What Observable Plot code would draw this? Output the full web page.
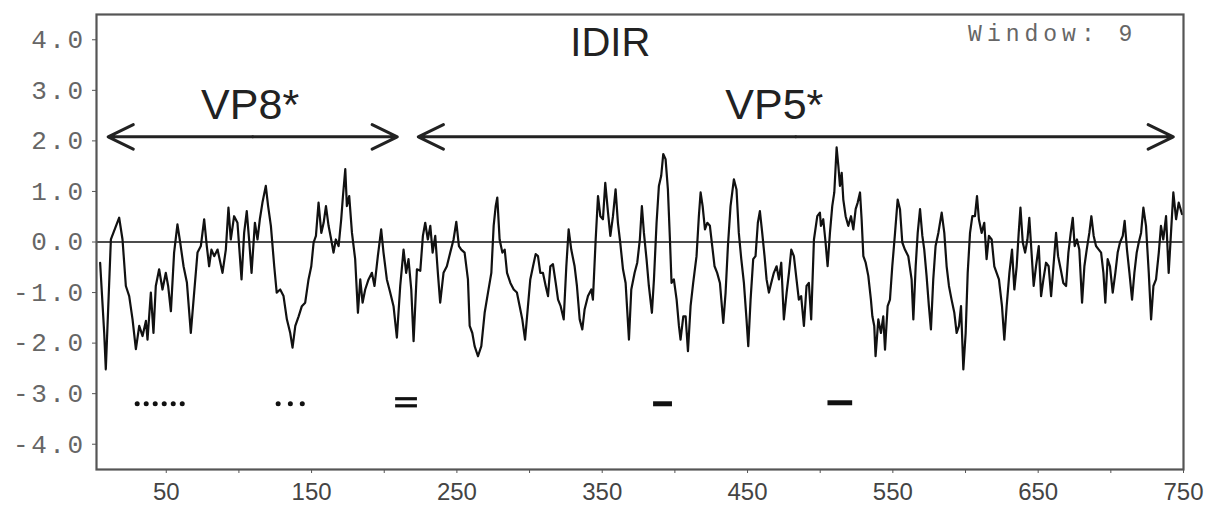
<!DOCTYPE html>
<html>
<head>
<meta charset="utf-8">
<script src="https://cdn.jsdelivr.net/npm/d3@7"></script>
<script src="https://cdn.jsdelivr.net/npm/@observablehq/plot@0.6"></script>
<style>
  html, body { margin: 0; padding: 0; background: #fff; }
  #chart { width: 1218px; height: 505px; }
</style>
</head>
<body>
<div id="chart"></div>
<script>
// Residue positions and IDIR profile values (Window: 9)
const residue = [
  4.5,7.3,8.4,11.9,17.6,19.9,22.2,24.5,26.8,29.1,31.4,33.7,36.0,37.1,39.4,41.2,42.8,45.1,47.4,49.7,
  51.3,53.2,55.4,57.7,59.6,61.9,64.2,66.9,69.2,71.5,73.8,76.1,77.9,79.5,81.1,83.0,85.3,88.7,91.0,92.8,
  94.4,96.7,99.0,101.8,103.6,105.4,107.0,108.7,111.0,112.8,114.4,116.2,118.5,120.1,122.0,124.3,
  126.0,128.4,130.7,133.0,135.3,136.9,138.8,141.1,143.3,145.6,147.9,149.8,151.4,153.0,154.8,156.7,158.3,
  159.9,161.7,163.5,165.1,166.7,168.6,170.4,171.6,173.2,174.3,175.9,177.8,180.0,181.9,183.5,185.1,186.9,
  189.2,191.5,193.3,195.6,197.9,199.5,201.8,204.1,206.4,208.7,211.0,213.3,215.1,216.7,218.6,220.2,222.5,
  224.8,226.6,228.2,230.0,231.7,233.3,235.1,236.9,238.5,240.8,243.1,245.4,247.7,249.6,
  251.4,253.0,255.3,257.6,258.8,260.6,262.2,264.5,266.8,269.1,271.4,273.7,275.3,276.7,277.8,279.4,281.3,
  282.9,284.5,286.8,289.1,291.3,293.2,295.0,296.9,298.9,300.5,302.4,304.2,305.8,307.4,309.2,311.1,312.7,
  314.3,316.1,318.0,319.6,321.4,323.5,325.3,326.9,328.7,331.0,332.6,334.5,336.3,337.9,340.2,342.5,343.6,
  345.5,347.1,348.7,350.5,352.1,354.0,355.6,357.4,359.2,360.8,362.4,364.3,366.1,368.4,370.0,372.3,374.1,
  375.9,377.3,378.7,380.5,382.1,384.2,385.6,387.4,389.0,390.6,392.0,393.6,395.2,396.6,397.7,399.3,401.2,
  402.8,403.9,405.8,407.4,409.0,410.8,412.6,414.9,416.5,417.7,419.1,420.7,422.3,424.1,425.7,427.3,429.1,
  431.0,433.3,434.9,436.5,438.3,440.6,442.4,444.0,445.7,447.5,449.3,450.5,452.1,453.9,455.5,457.1,458.5,
  460.1,461.7,463.1,464.7,466.3,468.1,470.0,471.6,473.2,475.0,476.9,478.5,480.1,481.9,483.7,485.3,486.9,
  488.8,490.6,492.2,493.8,495.7,498.0,499.8,
  500.5,502.1,503.7,505.1,506.7,508.3,509.7,511.3,512.5,513.6,514.8,515.9,517.5,519.3,521.2,522.8,524.4,
  525.8,527.4,528.5,529.7,531.3,533.1,534.9,535.9,537.2,538.1,540.0,541.8,543.4,544.6,546.4,548.0,549.6,
  551.5,553.3,554.9,556.5,558.3,560.6,562.9,564.1,565.7,567.1,568.7,570.3,571.6,573.2,574.8,576.2,577.8,
  579.4,581.3,583.6,585.4,587.0,588.6,590.4,592.3,593.9,595.5,596.9,598.5,600.1,601.5,603.1,604.7,606.5,
  607.9,609.2,611.1,612.9,614.5,616.1,618.0,619.8,621.4,623.0,
  625.1,626.7,628.3,630.2,632.0,633.6,635.2,636.6,637.8,639.4,641.0,642.6,643.9,645.3,646.9,648.5,650.4,
  652.0,653.6,655.4,657.2,658.9,660.5,662.3,663.7,665.5,667.3,669.2,670.8,672.4,673.8,675.1,676.7,678.3,
  680.2,681.8,683.4,685.2,686.6,688.2,689.8,691.7,693.3,694.9,696.2,697.8,699.4,701.3,703.1,704.7,706.3,
  708.2,709.5,711.1,712.8,714.6,716.2,717.8,719.2,720.8,722.4,724.2,726.1,727.7,729.3,731.1,733.0,734.5,
  736.1,738.0,739.8,741.4,743.0,744.9,746.7,749.0
];
const idir = [
  -0.41,-1.80,-2.52,0.05,0.48,0.05,-0.87,-1.07,-1.53,-2.12,-1.66,-1.86,-1.56,-1.93,-1.00,-1.80,-0.87,-0.54,-0.94,-0.61,
  -0.87,-1.37,-0.21,0.35,-0.01,-0.48,-0.80,-1.80,-1.00,-0.21,-0.08,0.45,-0.08,-0.48,-0.15,-0.28,-0.15,-0.61,-0.15,0.68,
  0.05,0.51,0.38,-0.74,0.18,0.61,0.05,-0.61,0.38,0.05,0.45,0.78,1.11,0.71,0.32,-0.48,
  -1.00,-0.94,-1.07,-1.53,-1.80,-2.09,-1.66,-1.47,-1.27,-1.20,-0.74,-0.48,-0.01,0.12,0.78,0.18,0.38,
  0.71,0.32,0.05,-0.21,0.05,-0.08,0.45,0.91,1.44,0.71,0.91,0.18,-0.34,-1.40,-0.74,-1.20,-0.94,
  -0.74,-0.61,-0.87,-0.28,0.25,-0.21,-0.74,-1.00,-1.27,-1.89,-0.87,-0.15,-0.61,-0.34,-0.94,-1.96,-0.54,
  -0.57,0.12,0.38,0.05,0.32,-0.21,0.12,-0.61,-1.20,-0.61,-0.48,-0.21,0.05,0.40,
  -0.08,-0.15,-0.21,-0.74,-1.66,-1.80,-2.06,-2.26,-2.06,-1.40,-1.00,-0.61,0.32,0.71,0.88,0.05,-0.21,
  -0.15,-0.61,-0.81,-0.94,-1.00,-1.27,-1.53,-1.93,-1.27,-0.74,-0.48,-0.24,-0.28,-0.61,-0.61,-0.87,-1.07,
  -0.48,-0.44,-0.81,-1.14,-1.27,-1.53,-0.48,0.25,-0.15,-0.48,-0.87,-1.53,-1.73,-1.33,-1.07,-0.94,-1.14,
  0.05,0.91,0.51,0.45,1.17,0.58,0.12,0.51,1.04,0.38,-0.01,-0.54,-0.81,-1.93,-0.94,-0.61,-0.41,
  0.05,0.71,0.18,-0.34,-0.87,-1.40,-0.74,0.38,1.11,1.31,1.74,1.64,1.04,0.05,-0.81,-0.74,-1.14,
  -1.66,-1.93,-1.47,-1.47,-2.16,-1.27,-0.81,-0.28,0.51,0.98,0.71,0.25,0.38,0.32,-0.08,-0.48,-0.61,
  -0.81,-1.60,-1.00,-0.08,0.71,1.24,1.04,0.18,-0.34,-0.81,-1.53,-2.06,-1.14,-0.34,-0.28,0.38,0.61,
  0.18,-0.28,-0.74,-1.00,-0.81,-0.61,-0.48,-0.74,-0.41,-1.53,-1.00,-0.61,-0.15,-0.28,-0.74,-1.14,-1.07,
  -1.66,-0.87,-0.81,-1.53,0.05,0.51,0.58,
  0.32,0.45,-0.01,-0.48,0.18,0.71,0.98,1.87,1.50,1.11,1.37,0.84,0.51,0.32,0.51,0.25,0.65,
  0.78,0.98,0.45,-0.28,-0.41,-0.67,-1.14,-1.47,-1.66,-2.26,-1.53,-1.80,-1.47,-2.13,-1.27,-1.14,-0.48,
  0.18,0.84,0.65,-0.01,-0.15,-0.28,-0.74,-1.53,-0.48,0.18,0.65,0.12,-0.15,-0.67,-1.27,-1.73,-0.74,
  -0.08,0.18,0.58,0.18,-0.48,-0.87,-1.14,-1.40,-1.80,-1.66,-1.27,-2.52,-1.80,-0.61,0.18,0.51,0.51,
  0.91,0.45,0.18,0.38,-0.34,0.12,0.05,-0.48,-0.61,-0.74,
  -1.27,-1.93,-1.27,-0.61,-0.15,-0.94,-0.48,0.18,0.68,-0.01,-0.21,0.05,0.48,-0.15,-0.87,-0.48,-0.08,
  -1.07,-0.74,-0.41,-0.48,-1.07,-0.48,0.18,-0.28,-0.54,-0.81,-0.87,-0.21,0.18,0.48,-0.08,0.05,-0.15,
  -1.20,-0.48,-0.15,0.18,0.51,0.12,-0.08,-0.15,-0.21,-0.61,-1.20,-0.34,-0.48,-1.00,-0.61,-0.21,-0.01,
  0.12,0.42,-0.15,-0.61,-1.14,-0.61,-0.21,-0.01,0.18,0.68,0.32,-0.61,-1.53,-0.87,-0.74,-0.21,0.32,
  0.05,0.51,-0.61,0.18,0.98,0.45,0.78,0.55
];

// Axis ticks
const yTicks = [-4, -3, -2, -1, 0, 1, 2, 3, 4];
const xTicks = [50, 100, 150, 200, 250, 300, 350, 400, 450, 500, 550, 600, 650, 700, 750];
const xTickLabels = [50, 150, 250, 350, 450, 550, 650, 750];

// Domain arrows (VP8*, VP5*)
const domainNames = ["VP8*", "VP5*"];
const domainStart = [10, 223.4];
const domainEnd = [209, 743];
const domainArrowY = 2.08;
const domainLabelX = [107.7, 468.4];
const domainLabelY = 2.7;

// Markers below the profile
const dotX = [30, 36.2, 42.4, 48.6, 54.8, 61, 127, 135.4, 143.6];
const dotY = -3.2;
const barStart = [385, 505];
const barEnd = [398, 522];
const barY = [-3.2, -3.18];
const eqStart = 207.5, eqEnd = 222.5;
const eqY = [-3.10, -3.24];

const profile = residue.map((r, i) => ({r, v: idir[i]}));
const arrows = [];
domainNames.forEach((n, i) => {
  const mid = (domainStart[i] + domainEnd[i]) / 2;
  arrows.push({x1: mid, x2: domainStart[i]});
  arrows.push({x1: mid, x2: domainEnd[i]});
});
const labels = domainNames.map((n, i) => ({n, x: domainLabelX[i]}));
const bars = barStart.map((s, i) => ({x1: s, x2: barEnd[i], y: barY[i]}));
eqY.forEach(y => bars.push({x1: eqStart, x2: eqEnd, y, eq: true}));

const chart = Plot.plot({
  width: 1218,
  height: 505,
  marginTop: 14,
  marginRight: 35,
  marginBottom: 36,
  marginLeft: 96,
  style: {background: "#fff", fontFamily: "Liberation Sans, Arial, sans-serif"},
  x: {domain: [2, 750]},
  y: {domain: [-4.5, 4.5]},
  marks: [
    Plot.axisY({ticks: yTicks, tickFormat: d => d.toFixed(1), tickSize: 4, tickPadding: 7,
      fontSize: 26, fontFamily: "Liberation Mono, monospace", fill: "#666", stroke: "#555", label: null}),
    Plot.axisX({ticks: xTicks, tickFormat: () => "", tickSize: 4, stroke: "#555", label: null}),
    Plot.axisX({ticks: xTickLabels, tickFormat: d => String(d), tickSize: 0, tickPadding: 13,
      fontSize: 24, fill: "#444", label: null}),
    Plot.ruleY([0], {stroke: "#111", strokeWidth: 1.6}),
    Plot.line(profile, {x: "r", y: "v", stroke: "#111", strokeWidth: 2.2, strokeLinejoin: "round"}),
    Plot.frame({stroke: "#555", strokeWidth: 2.2}),
    Plot.arrow(arrows, {x1: "x1", x2: "x2", y1: domainArrowY, y2: domainArrowY,
      stroke: "#222", strokeWidth: 3, headLength: 14, headAngle: 52}),
    Plot.text(labels, {x: "x", y: domainLabelY, text: "n", fontSize: 43, fill: "#222",
      fontFamily: "Liberation Sans, Arial, sans-serif"}),
    Plot.text(["IDIR"], {x: 355.6, y: 3.93, text: d => d, fontSize: 40, fill: "#222",
      fontFamily: "Liberation Sans, Arial, sans-serif"}),
    Plot.text(["Window: 9"], {x: 660, y: 4.13, text: d => d, fontSize: 23, fill: "#666",
      fontFamily: "Liberation Mono, monospace"}),
    Plot.dot(dotX, {x: d => d, y: dotY, r: 2.5, fill: "#111", stroke: null}),
    Plot.link(bars, {x1: "x1", x2: "x2", y1: "y", y2: "y", stroke: "#111",
      strokeWidth: d => d.eq ? 3.2 : 5})
  ]
});

document.getElementById("chart").appendChild(chart);
d3.select(chart).selectAll('g[aria-label="y-axis tick label"] text').attr("letter-spacing", "2.5px");
d3.select(chart).selectAll('text').filter(function () { return this.textContent === "Window: 9"; })
  .attr("letter-spacing", "5px");
</script>
</body>
</html>
